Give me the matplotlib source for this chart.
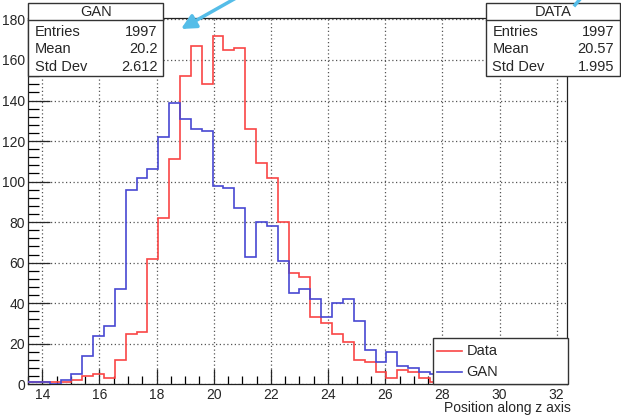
import numpy as np
import matplotlib
matplotlib.use("Agg")
import matplotlib.pyplot as plt
from matplotlib.patches import Rectangle
from matplotlib.lines import Line2D

plt.rcParams['font.family'] = ['Liberation Sans', 'DejaVu Sans']

# 50 bins of width 0.38 starting at z = 13.5
x_lo = 13.5
bin_width = 0.38
n_bins = 50

data_counts = [1, 1, 1, 1, 2, 4, 5, 3, 12, 25,
               26, 62, 82, 111, 152, 167, 148, 172, 165, 166,
               126, 109, 102, 80, 55, 53, 33, 30, 25, 21,
               12, 11, 6, 3, 7, 6, 3, 1, 3, 2,
               2, 1, 0, 0, 0, 0, 0, 0, 0, 0]
gan_counts = [1, 1, 0, 2, 5, 14, 24, 29, 47, 96,
              102, 106, 122, 139, 131, 126, 125, 98, 97, 87,
              63, 80, 78, 61, 45, 47, 42, 33, 40, 42,
              31, 17, 11, 16, 9, 8, 6, 5, 4, 3,
              2, 1, 1, 0, 0, 0, 0, 0, 0, 0]

stats = {
    'GAN': [('Entries', '1997'), ('Mean', '20.2'), ('Std Dev', '2.612')],
    'DATA': [('Entries', '1997'), ('Mean', '20.57'), ('Std Dev', '1.995')],
}

x_ticks = np.arange(14, 33, 2)
y_ticks = np.arange(0, 181, 20)

W, H = 621, 416
red = '#f94545'
blue = '#4848d2'
ink = '#262626'


def fx(px):
    return px / W


def fy(py):
    return 1 - py / H


edges = x_lo + bin_width * np.arange(n_bins + 1)

fig = plt.figure(figsize=(W / 100, H / 100), dpi=100)
ax = fig.add_axes([fx(28), fy(384.3), fx(566.7) - fx(28), fy(18.2) - fy(384.3)])

ax.stairs(data_counts, edges, baseline=None, color=red, lw=1.2, zorder=3)
ax.stairs(gan_counts, edges, baseline=None, color=blue, lw=1.2, zorder=4)

ax.set_xlim(13.5, 32.35)
ax.set_ylim(0, 180.6)
ax.set_xticks(x_ticks)
ax.set_yticks(y_ticks)
ax.set_xticks(np.arange(13.5, 32.4, 0.5), minor=True)
ax.set_yticks(np.arange(0, 181, 4), minor=True)
ax.tick_params(axis='x', which='major', direction='in', length=11, width=0.9,
               pad=3, labelsize=10, colors=ink)
ax.tick_params(axis='x', which='minor', direction='in', length=5.5, width=0.9)
ax.tick_params(axis='y', which='major', direction='in', length=16, width=0.9,
               pad=2, labelsize=10, colors=ink)
ax.tick_params(axis='y', which='minor', direction='in', length=8, width=0.9)
ax.grid(True, which='major', color='#555555', linestyle=(0, (1, 2)), lw=0.9)
for s in ax.spines.values():
    s.set_linewidth(0.9)
    s.set_color('#222222')

fig.text(fx(570.7), fy(408.3), 'Position along z axis', ha='right', va='center',
         fontsize=10, color=ink)


def stats_box(x0, x1, title, rows):
    top, bot, sep = 3.3, 76, 20
    fig.add_artist(Rectangle((fx(x0), fy(bot)), fx(x1) - fx(x0), fy(top) - fy(bot),
                             transform=fig.transFigure, facecolor='white',
                             edgecolor='#333333', lw=1, zorder=10))
    fig.add_artist(Line2D([fx(x0), fx(x1)], [fy(sep), fy(sep)], transform=fig.transFigure,
                          color='#333333', lw=1, zorder=11))
    fig.text(fx((x0 + x1) / 2), fy(12), title, ha='center', va='center',
             fontsize=10.5, color=ink, zorder=12)
    for (name, val), yy in zip(rows, [31.7, 49, 66.7]):
        fig.text(fx(x0 + 6.5), fy(yy), name, ha='left', va='center',
                 fontsize=10.5, color=ink, zorder=12)
        fig.text(fx(x1 - 6), fy(yy), val, ha='right', va='center',
                 fontsize=10.5, color=ink, zorder=12)


stats_box(28.3, 163.3, 'GAN', stats['GAN'])
stats_box(486, 620, 'DATA', stats['DATA'])

# legend box in the lower right corner
fig.add_artist(Rectangle((fx(432.7), fy(384)), fx(567.7) - fx(432.7), fy(338.3) - fy(384),
                         transform=fig.transFigure, facecolor='white',
                         edgecolor='#333333', lw=1, zorder=10))
for label, col, yy in [('Data', red, 350.7), ('GAN', blue, 372.3)]:
    fig.add_artist(Line2D([fx(436.7), fx(461.7)], [fy(yy), fy(yy)], transform=fig.transFigure,
                          color=col, lw=1.2, zorder=11))
    fig.text(fx(466.7), fy(yy), label, ha='left', va='center', fontsize=10.5,
             color=ink, zorder=12)

# cyan pointer arrows at the top edge
arrow_col = '#55bde8'
ax.annotate('', xy=(181, H - 29), xytext=(236, H + 2), xycoords='figure pixels',
            textcoords='figure pixels', annotation_clip=False,
            arrowprops=dict(arrowstyle='-|>', color=arrow_col, lw=2.5,
                            mutation_scale=22, shrinkA=0, shrinkB=0), zorder=13)
fig.add_artist(Line2D([fx(581), fx(575)], [fy(-2), fy(5)], transform=fig.transFigure,
                      color=arrow_col, lw=2.5, zorder=13))

fig.savefig('out.png', dpi=100)
